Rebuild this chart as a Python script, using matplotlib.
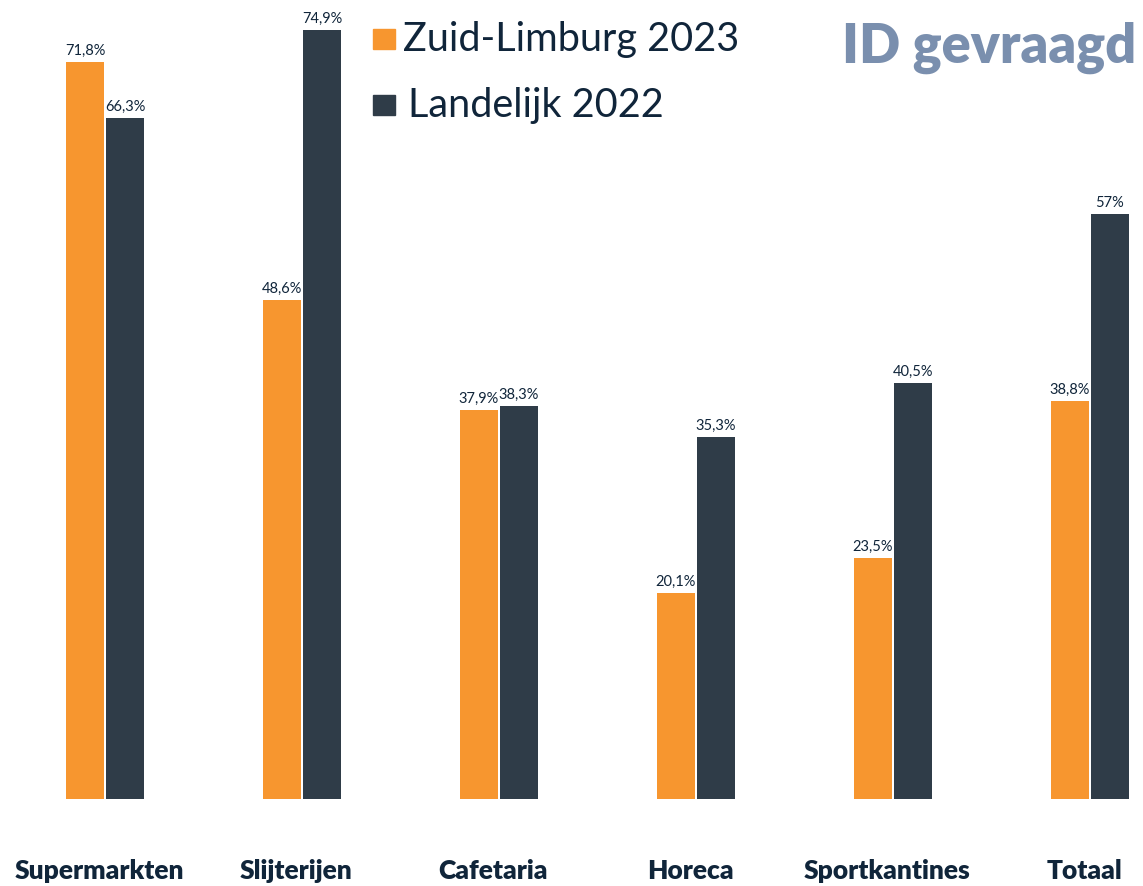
import matplotlib
matplotlib.use("Agg")
import matplotlib.pyplot as plt
from matplotlib.patches import Rectangle

categories = ["Supermarkten", "Slijterijen", "Cafetaria", "Horeca", "Sportkantines", "Totaal"]
zuid_limburg_2023 = [71.8, 48.6, 37.9, 20.1, 23.5, 38.8]
landelijk_2022 = [66.3, 74.9, 38.3, 35.3, 40.5, 57.0]
labels_zl = ["71,8%", "48,6%", "37,9%", "20,1%", "23,5%", "38,8%"]
labels_ld = ["66,3%", "74,9%", "38,3%", "35,3%", "40,5%", "57%"]

ORANGE = "#f7962f"
DARK = "#2f3c48"
NAVY = "#10253a"
TITLE = "#7a8fae"

plt.rcParams["font.family"] = ["Lato", "DejaVu Sans"]

W, H = 1143, 887
fig = plt.figure(figsize=(W / 100, H / 100), dpi=100)
ax = fig.add_axes([0, 87 / H, 1, 800 / H])

x = list(range(len(categories)))
step = 197.0
w = 38 / step
off = 20 / step

b1 = ax.bar([i - off for i in x], zuid_limburg_2023, width=w, color=ORANGE)
b2 = ax.bar([i + off for i in x], landelijk_2022, width=w, color=DARK)

for rect, lab in zip(b1, labels_zl):
    ax.text(rect.get_x() + rect.get_width() / 2, rect.get_height() + 0.5, lab,
            ha="center", va="bottom", fontsize=10.5, color=NAVY)
for rect, lab in zip(b2, labels_ld):
    ax.text(rect.get_x() + rect.get_width() / 2, rect.get_height() + 0.5, lab,
            ha="center", va="bottom", fontsize=10.5, color=NAVY)

ax.set_xlim(-105 / step, 5 + (W - 1090) / step)
ax.set_ylim(0, 800 / 10.265)
ax.axis("off")

# category labels under the bars
for i, c in enumerate(categories):
    ax.text(i - 0.03, -6.9, c, ha="center", va="center", fontsize=19, fontweight="heavy",
            color=NAVY, clip_on=False)

# legend drawn by hand
fig.patches.append(Rectangle((373 / W, 1 - 50 / H), 22 / W, 20 / H,
                             transform=fig.transFigure, color=ORANGE))
fig.patches.append(Rectangle((373 / W, 1 - 116 / H), 22 / W, 20 / H,
                             transform=fig.transFigure, color=DARK))
fig.text(403 / W, 1 - 40 / H, "Zuid-Limburg 2023", fontsize=28.5, color=NAVY,
         ha="left", va="center")
fig.text(408 / W, 1 - 106 / H, "Landelijk 2022", fontsize=28.5, color=NAVY,
         ha="left", va="center")

fig.text(1136 / W, 1 - 48 / H, "ID gevraagd", fontsize=39, fontweight="heavy",
         color=TITLE, ha="right", va="center")

fig.savefig("out.png", dpi=100)
